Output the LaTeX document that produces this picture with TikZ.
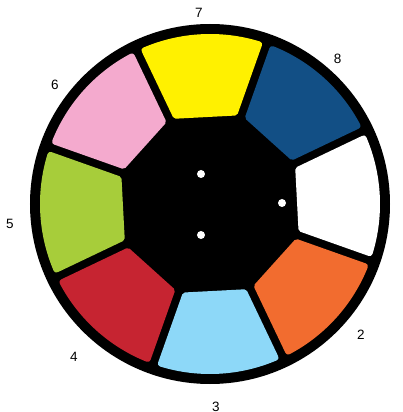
\documentclass[tikz,border=0pt]{standalone}
\usepackage{fontspec}
\setmainfont{Liberation Sans}
\usetikzlibrary{calc}

\definecolor{segwhite}{HTML}{FFFFFF}
\definecolor{segorange}{HTML}{F26C2F}
\definecolor{segsky}{HTML}{8DD8F8}
\definecolor{segred}{HTML}{C62431}
\definecolor{seggreen}{HTML}{A7CD3A}
\definecolor{segpink}{HTML}{F4AACE}
\definecolor{segyellow}{HTML}{FFF100}
\definecolor{segnavy}{HTML}{124F85}

\begin{document}
\begin{tikzpicture}[
    x=1pt, y=1pt,
    segment/.style={line width=6pt, line join=round},
    numlabel/.style={font=\fontsize{13.5}{14}\selectfont, inner sep=0pt},
    hole/.style={fill=white, draw=none},
]
\useasboundingbox (-210,-208) rectangle (192,204);

% Wheel body
\fill[black] (0,0) circle[radius=180];

% Colour segments (shrunk shape, then stroked for round corners)
\def\apo{90}
\def\rad{167}
\def\gap{7}
\foreach \k/\col in {1/segwhite, 2/segorange, 3/segsky, 4/segred,
                     5/seggreen, 6/segpink, 7/segyellow, 8/segnavy} {
  \begin{scope}[rotate={3-(\k-1)*45}]
    \filldraw[segment, fill=\col, draw=\col]
      ({\apo},{-(\apo*tan(22.5)-\gap/cos(22.5))})
      -- ({\apo},{\apo*tan(22.5)-\gap/cos(22.5)})
      -- ({22.5-asin(\gap/\rad)}:\rad)
      arc[start angle={22.5-asin(\gap/\rad)}, end angle={-22.5+asin(\gap/\rad)}, radius=\rad]
      -- cycle;
  \end{scope}
}

% Holes in the hub
\fill[hole] (-9,30) circle[radius=4];
\fill[hole] (-9,-31) circle[radius=4];
\fill[hole] (72,1) circle[radius=4];

% Position numbers
\foreach \k/\px/\py in {1/197/8, 2/151/-130.3, 3/6/-202.7, 4/-136/-152.7,
                        5/-200/-20, 6/-155/119, 7/-11/191.3, 8/127.7/144.7} {
  \node[numlabel] (lab\k) at (\px,\py) {\k};
}

\end{tikzpicture}
\end{document}
